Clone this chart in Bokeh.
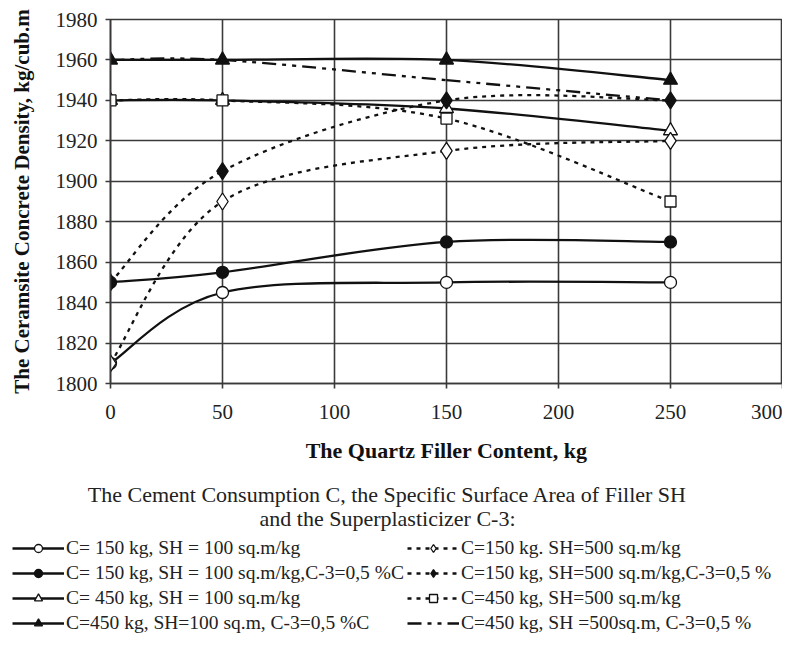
from bokeh.plotting import figure
from bokeh.models import Legend, LegendItem, Label, FixedTicker, Range1d
from bokeh.embed import file_html
from bokeh.resources import INLINE

# ---------------- data ----------------
filler = [0, 50, 150, 250]
c150_sh100 = [1810, 1845, 1850, 1850]
c150_sh100_c3 = [1850, 1855, 1870, 1870]
c450_sh100 = [1940, 1940, 1936, 1925]
c450_sh100_c3 = [1960, 1960, 1960, 1950]
c150_sh500 = [1810, 1890, 1915, 1920]
c150_sh500_c3 = [1850, 1905, 1940, 1940]
c450_sh500 = [1940, 1940, 1931, 1890]
c450_sh500_c3 = [1960, 1960, 1950, 1940]

labels = [
    "C= 150 kg, SH = 100 sq.m/kg",
    "C= 150 kg, SH = 100 sq.m/kg,C-3=0,5 %C",
    "C= 450 kg, SH = 100 sq.m/kg",
    "C=450 kg, SH=100 sq.m, C-3=0,5 %C",
    "C=150 kg. SH=500 sq.m/kg",
    "C=150 kg, SH=500 sq.m/kg,C-3=0,5 %",
    "C=450 kg, SH=500 sq.m/kg",
    "C=450 kg, SH =500sq.m, C-3=0,5 %",
]
legend_title = ["The Cement Consumption C, the Specific Surface Area of Filler SH",
                "and the Superplasticizer C-3:"]
x_ticks = [0, 50, 100, 150, 200, 250, 300]
y_ticks = [1800, 1820, 1840, 1860, 1880, 1900, 1920, 1940, 1960, 1980]

FONT = "Liberation Serif"
INK = "#111111"
GRID = "#3a3a3a"
TXT = "#222222"
NAN = float("nan")

W = 782
H1 = 470
H2 = 167

p = figure(width=W, height=H1, output_backend="svg", toolbar_location=None,
           x_range=Range1d(0, 300), y_range=Range1d(1800, 1980),
           min_border_left=110, min_border_right=0, min_border_top=19,
           min_border_bottom=87)
p.background_fill_color = "white"
p.border_fill_color = "white"
p.outline_line_color = GRID
p.outline_line_width = 1.6

for ax in (p.xaxis, p.yaxis):
    ax.major_label_text_font = FONT
    ax.major_label_text_font_size = "21px"
    ax.major_label_text_color = TXT
    ax.axis_label_text_font = FONT
    ax.axis_label_text_font_size = "22px"
    ax.axis_label_text_font_style = "bold"
    ax.axis_label_text_color = INK
    ax.axis_line_color = GRID
    ax.axis_line_width = 1.6
    ax.major_tick_line_color = GRID
    ax.major_tick_line_width = 1.6
    ax.major_tick_in = 0
    ax.major_tick_out = 5
    ax.minor_tick_line_color = None

p.xaxis.ticker = FixedTicker(ticks=x_ticks)
p.yaxis.ticker = FixedTicker(ticks=y_ticks)
p.xaxis.axis_label = "The Quartz Filler Content, kg"
p.yaxis.axis_label = "The Ceramsite Concrete Density, kg/cub.m"
p.yaxis.axis_label_text_font_size = "21px"
p.xaxis.major_label_standoff = 16
p.yaxis.major_label_standoff = 8
p.xaxis.axis_label_standoff = 16
p.yaxis.axis_label_standoff = 19

p.xgrid.ticker = FixedTicker(ticks=x_ticks)
p.ygrid.ticker = FixedTicker(ticks=y_ticks)
for g in (p.xgrid, p.ygrid):
    g.grid_line_color = GRID
    g.grid_line_width = 1.6


def smooth(xs, ys):
    """Bezier control points for a smoothed line through the data points."""
    n = len(xs)
    out = dict(x0=[], y0=[], x1=[], y1=[], cx0=[], cy0=[], cx1=[], cy1=[])
    for i in range(n - 1):
        a = i - 1 if i > 0 else i
        b = i + 2 if i + 2 < n else i + 1
        out["x0"].append(xs[i]); out["y0"].append(ys[i])
        out["x1"].append(xs[i + 1]); out["y1"].append(ys[i + 1])
        out["cx0"].append(xs[i] + (xs[i + 1] - xs[a]) / 6)
        out["cy0"].append(ys[i] + (ys[i + 1] - ys[a]) / 6)
        out["cx1"].append(xs[i + 1] - (xs[b] - xs[i]) / 6)
        out["cy1"].append(ys[i + 1] - (ys[b] - ys[i]) / 6)
    return out


series = [
    (c150_sh100, "solid", "circle", "white", 12),
    (c150_sh100_c3, "solid", "circle", INK, 12),
    (c450_sh100, "solid", "triangle", "white", 14),
    (c450_sh100_c3, "solid", "triangle", INK, 14),
    (c150_sh500, "4 5", "diamond", "white", 17),
    (c150_sh500_c3, "4 5", "diamond", INK, 17),
    (c450_sh500, "4 5", "square", "white", 11),
    (c450_sh500_c3, "14 6 4 6 4 6", None, None, 0),
]

# ---------------- legend panel (second root) ----------------
q = figure(width=W, height=H2, output_backend="svg", toolbar_location=None,
           x_range=Range1d(0, W), y_range=Range1d(H2, 0),
           min_border_left=0, min_border_right=0, min_border_top=0,
           min_border_bottom=0, x_axis_type=None, y_axis_type=None)
q.outline_line_color = None
q.xgrid.visible = False
q.ygrid.visible = False
q.background_fill_color = "white"
q.border_fill_color = "white"

items = []
for (ys, dash, marker, fill, size), lab in zip(series, labels):
    p.bezier(**smooth(filler, ys), line_color=INK, line_width=2.3,
             line_dash=dash)
    # legend proxies (no visible data)
    rs = [q.line(x=[NAN], y=[NAN], line_color=INK, line_width=2.3,
                 line_dash=dash)]
    if marker is not None:
        p.scatter(filler, ys, marker=marker, size=size, fill_color=fill,
                  line_color=INK, line_width=1.3)
        rs.append(q.scatter(x=[NAN], y=[NAN], marker=marker, fill_color=fill,
                            line_color=INK, line_width=1.3))
    items.append(LegendItem(label=lab, renderers=rs))

for i, t in enumerate(legend_title):
    q.add_layout(Label(x=387, y=24 + 24 * i, text=t, text_align="center",
                       text_baseline="middle", text_font=FONT,
                       text_font_size="22px", text_color=TXT))

legend = Legend(items=items, ncols=2, location=(12, 3),
                glyph_width=52, glyph_height=20, label_standoff=2,
                spacing=3, padding=0, margin=0,
                border_line_color=None, background_fill_alpha=0,
                label_text_font=FONT, label_text_font_size="19.5px",
                label_text_color=TXT, label_height=20)
q.add_layout(legend, "center")

open("out.html", "w").write(file_html([p, q], INLINE))
